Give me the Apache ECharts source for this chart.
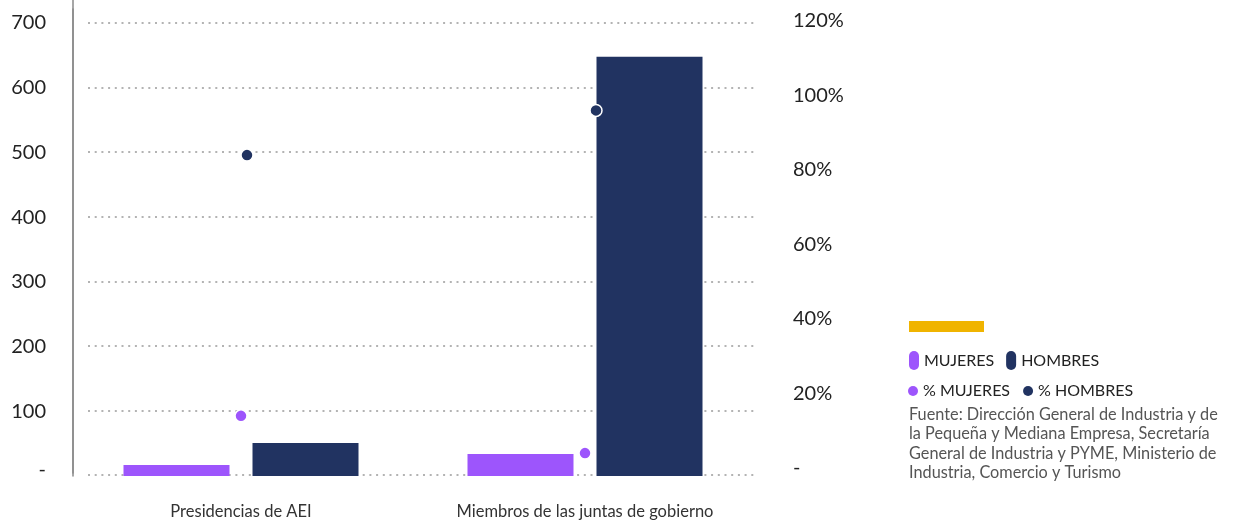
<!DOCTYPE html>
<html><head><meta charset="utf-8">
<script src="https://cdn.jsdelivr.net/npm/echarts@6/dist/echarts.min.js"></script>
<style>html,body{margin:0;padding:0;background:#fff}#c{width:1236px;height:525px}</style>
</head><body><div id="c"></div>
<script>
const categories = ['Presidencias de AEI', 'Miembros de las juntas de gobierno'];
const mujeres = [17, 34];
const hombres = [51, 648];
const pctMujeres = [0.14, 0.04];
const pctHombres = [0.84, 0.96];
const leftTicks = [0, 100, 200, 300, 400, 500, 600, 700];
const rightTicks = [0, 0.2, 0.4, 0.6, 0.8, 1.0, 1.2];
const sourceLines = [
  'Fuente: Dirección General de Industria y de',
  'la Pequeña y Mediana Empresa, Secretaría',
  'General de Industria y PYME, Ministerio de',
  'Industria, Comercio y Turismo'
];

const PURPLE = '#9D55FC', NAVY = '#213361', YELLOW = '#F0B400';
const FONT = 'Lato';
const chart = echarts.init(document.getElementById('c'));
const hOffsets = [6, 11];
const PILL = 'path://M0,5A5,5 0 0 1 10,5L10,14A5,5 0 0 1 0,14Z';

chart.setOption({
  animation: false,
  textStyle: { fontFamily: FONT },
  grid: [
    { left: 69, right: 479, top: 23, bottom: 49 },   // bars
    { left: 69, right: 479, top: 21, bottom: 57 },   // percentage points
    { left: 73, right: 453, top: 0, bottom: 49 },    // left axis line
    { left: 73, right: 453, top: 9, bottom: 52 },    // right axis line
    { left: 88, right: 478, top: 23, bottom: 50 }    // dotted gridlines
  ],
  xAxis: [
    { gridIndex: 0, type: 'category', data: categories,
      axisLine: { show: false }, axisTick: { show: false },
      axisLabel: { margin: 27, fontSize: 16.5, color: '#333', fontFamily: FONT } },
    { gridIndex: 1, type: 'category', data: categories, show: false },
    { gridIndex: 2, type: 'value', show: false, min: 0, max: 1 },
    { gridIndex: 3, type: 'value', show: false, min: 0, max: 1 },
    { gridIndex: 4, type: 'value', show: false, min: 0, max: 1 }
  ],
  yAxis: [
    { gridIndex: 0, type: 'value', min: leftTicks[0], max: leftTicks[leftTicks.length - 1],
      interval: leftTicks[1] - leftTicks[0],
      axisLine: { show: false }, axisTick: { show: false }, splitLine: { show: false },
      axisLabel: { margin: 23, fontSize: 20, color: '#222', fontFamily: FONT,
        formatter: v => v === 0 ? '{z|-}' : String(v),
        rich: { z: { fontSize: 20, fontFamily: FONT, color: '#222', padding: [0, 0, 12, 0] } } } },
    { gridIndex: 1, type: 'value', position: 'right', min: rightTicks[0],
      max: rightTicks[rightTicks.length - 1], interval: 0.2,
      axisLine: { show: false }, axisTick: { show: false }, splitLine: { show: false },
      axisLabel: { margin: 36, fontSize: 20, color: '#222', fontFamily: FONT,
        formatter: v => v === 0 ? '-' : Math.round(v * 100) + '%' } },
    { gridIndex: 2, type: 'value', min: 0, max: 1, position: 'left',
      axisLine: { show: true, lineStyle: { color: '#8a8a8a', width: 1.5 } },
      axisTick: { show: false }, axisLabel: { show: false }, splitLine: { show: false } },
    { gridIndex: 3, type: 'value', min: 0, max: 1, position: 'right',
      axisLine: { show: true, lineStyle: { color: '#8a8a8a', width: 1.5 } },
      axisTick: { show: false }, axisLabel: { show: false }, splitLine: { show: false } },
    { gridIndex: 4, type: 'value', min: leftTicks[0], max: leftTicks[leftTicks.length - 1],
      interval: leftTicks[1] - leftTicks[0],
      axisLine: { show: false }, axisTick: { show: false }, axisLabel: { show: false },
      splitLine: { show: true, lineStyle: { color: '#b3b3b3', width: 2, type: [2, 4.7] } } }
  ],
  legend: [
    { left: 909, top: 351, padding: 0, itemWidth: 10, itemHeight: 19, itemGap: 12, icon: PILL,
      data: ['MUJERES', 'HOMBRES'],
      textStyle: { fontSize: 16, color: '#222', fontFamily: FONT } },
    { left: 908, top: 383, padding: 0, itemWidth: 10, itemHeight: 10, itemGap: 13, icon: 'circle',
      itemStyle: { borderWidth: 0 },
      data: ['% MUJERES', '% HOMBRES'],
      textStyle: { fontSize: 16, color: '#222', fontFamily: FONT } }
  ],
  graphic: [
    { type: 'rect', left: 909, top: 321, shape: { width: 75, height: 11 }, style: { fill: YELLOW } },
    { type: 'text', left: 909, top: 405,
      style: { text: sourceLines.join('\n'), font: '16.3px Lato', lineHeight: 19.3, fill: '#555' } }
  ],
  series: [
    { name: 'MUJERES', type: 'bar', xAxisIndex: 0, yAxisIndex: 0, data: mujeres,
      barWidth: 106, barGap: '21.7%', itemStyle: { color: PURPLE } },
    { name: 'HOMBRES', type: 'bar', xAxisIndex: 0, yAxisIndex: 0, data: hombres,
      barWidth: 106, barGap: '21.7%', itemStyle: { color: NAVY } },
    { name: '% MUJERES', type: 'scatter', xAxisIndex: 1, yAxisIndex: 1, data: pctMujeres,
      symbolSize: 12, itemStyle: { color: PURPLE, borderColor: '#fff', borderWidth: 1.5, opacity: 1 }, z: 5 },
    { name: '% HOMBRES', type: 'scatter', xAxisIndex: 1, yAxisIndex: 1,
      data: pctHombres.map((v, i) => ({ value: v, symbolOffset: [hOffsets[i], 0] })),
      symbolSize: 12, itemStyle: { color: NAVY, borderColor: '#fff', borderWidth: 1.5, opacity: 1 }, z: 5 }
  ]
});
</script></body></html>
